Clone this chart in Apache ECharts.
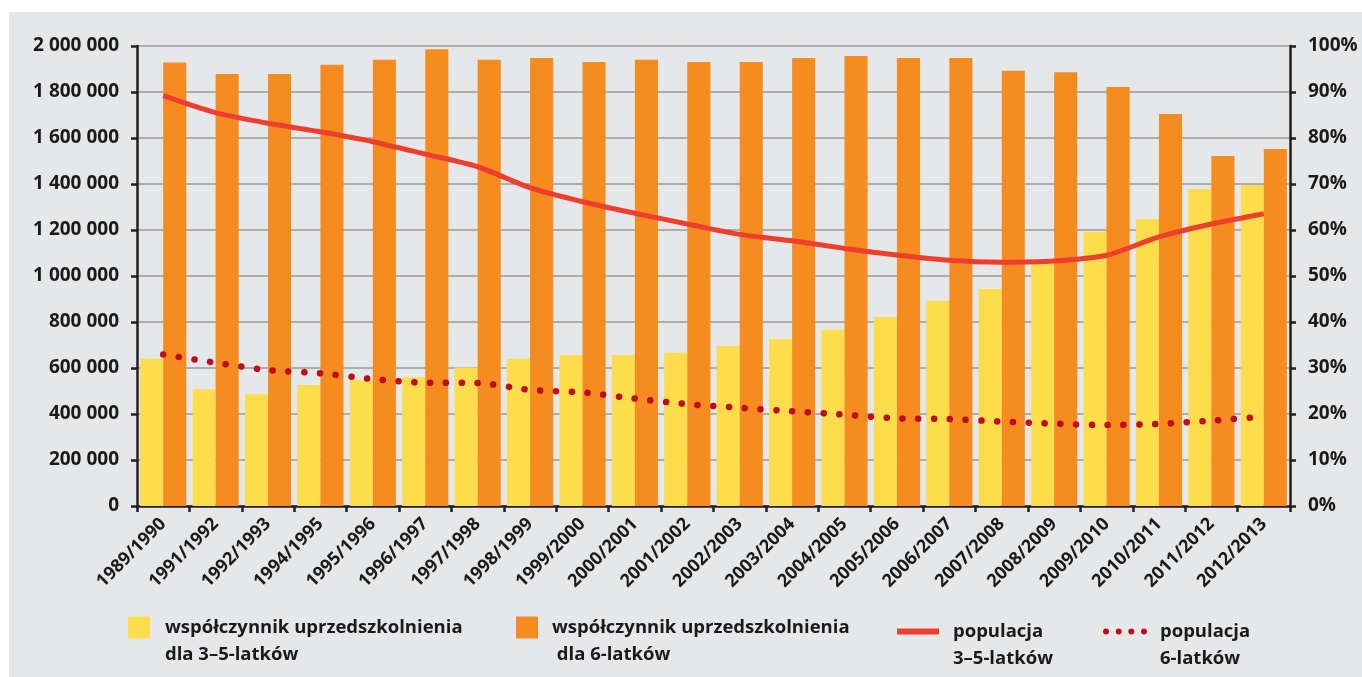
<!DOCTYPE html>
<html>
<head>
<meta charset="utf-8">
<title>Współczynnik uprzedszkolnienia</title>
<script src="https://cdn.jsdelivr.net/npm/echarts@6/dist/echarts.min.js"></script>
<style>
  html, body { margin: 0; padding: 0; background: #fff; }
  #chart { width: 1362px; height: 677px; }
</style>
</head>
<body>
<div id="chart"></div>
<script>
// lata szkolne
const years = ['1989/1990', '1991/1992', '1992/1993', '1994/1995', '1995/1996', '1996/1997',
  '1997/1998', '1998/1999', '1999/2000', '2000/2001', '2001/2002', '2002/2003', '2003/2004',
  '2004/2005', '2005/2006', '2006/2007', '2007/2008', '2008/2009', '2009/2010', '2010/2011',
  '2011/2012', '2012/2013']
// współczynnik uprzedszkolnienia (%)
const rate35 = [32.0, 25.4, 24.3, 26.3, 27.4, 28.0, 30.1, 32.0, 32.8, 32.8, 33.3, 34.8, 36.3,
  38.3, 41.1, 44.6, 47.2, 53.0, 59.6, 62.4, 68.9, 69.8]
const rate6 = [96.4, 93.9, 93.9, 95.9, 97.0, 99.3, 97.0, 97.4, 96.5, 97.0, 96.5, 96.5, 97.4,
  97.8, 97.4, 97.4, 94.6, 94.3, 91.1, 85.2, 76.1, 77.6]
// populacja (osoby)
const pop35 = [1784000, 1710000, 1664000, 1627000, 1584000, 1530000, 1475000, 1384000, 1323000,
  1273000, 1226000, 1181000, 1153000, 1120000, 1091000, 1068000, 1060000, 1065000, 1090000,
  1170000, 1226000, 1271000]
const pop6 = [659000, 623000, 591000, 577000, 552000, 536000, 535000, 505000, 494000, 467000,
  443000, 427000, 412000, 397000, 381000, 378000, 367000, 358000, 352000, 357000, 371000, 388000]

const FONT = '"Open Sans", sans-serif'
const TEXT = '#1a1a1a'
const YELLOW = '#fedd4c'
const ORANGE = '#f68b1f'
const RED = '#ee3e2e'
const DARKRED = '#c00b1c'

// 2000000 -> "2 000 000"
const spaced = (v) => String(v).replace(/\B(?=(\d{3})+(?!\d))/g, ' ')

const axisLine = { show: true, lineStyle: { color: '#231f20', width: 2.5 } }
const axisTick = { show: true, inside: false, length: 6, lineStyle: { color: '#231f20', width: 2.5 } }

// pusta pierwsza linia -> pierwszy wiersz tekstu na wysokości ikony
const legendText = (pl) => ({
  color: TEXT, fontFamily: FONT, fontWeight: 'bold', fontSize: 18.5,
  lineHeight: 27, padding: [0, 0, 0, pl]
})

// ikony legendy dla linii (kreska i kropki)
const solidIcon = 'path://M0,0L42,0L42,6L0,6Z'
const dotsIcon = 'path://M0,3a3,3 0 1,0 6,0a3,3 0 1,0 -6,0Z' +
  'M12.7,3a3,3 0 1,0 6,0a3,3 0 1,0 -6,0Z' +
  'M25.3,3a3,3 0 1,0 6,0a3,3 0 1,0 -6,0Z' +
  'M38,3a3,3 0 1,0 6,0a3,3 0 1,0 -6,0Z'

const option = {
  backgroundColor: '#fff',
  animation: false,
  graphic: [
    { type: 'rect', z: -10, shape: { x: 9, y: 12, width: 1353, height: 665 }, style: { fill: '#e6e7e9' } }
  ],
  grid: { left: 137, right: 72, top: 46, bottom: 171, containLabel: false },
  legend: [
    {
      data: ['yellow'], left: 128, top: 587, padding: 0, icon: 'rect', itemWidth: 22, itemHeight: 22,
      formatter: () => '\nwspółczynnik uprzedszkolnienia\ndla 3–5-latków', textStyle: legendText(10)
    },
    {
      data: ['orange'], left: 516, top: 587, padding: 0, icon: 'rect', itemWidth: 22, itemHeight: 22,
      formatter: () => '\nwspółczynnik uprzedszkolnienia\n dla 6-latków', textStyle: legendText(9)
    },
    {
      data: ['pop35'], left: 897, top: 591, padding: 0, icon: solidIcon, itemWidth: 42, itemHeight: 6,
      formatter: () => '\npopulacja\n3–5-latków', textStyle: legendText(9)
    },
    {
      data: ['pop6'], left: 1103, top: 591, padding: 0, icon: dotsIcon, itemWidth: 44, itemHeight: 6,
      formatter: () => '\npopulacja\n6-latków', textStyle: legendText(8)
    }
  ],
  xAxis: {
    type: 'category',
    data: years,
    boundaryGap: true,
    axisLine: axisLine,
    axisTick: axisTick,
    axisLabel: {
      interval: 0, rotate: 45, margin: 15,
      color: TEXT, fontFamily: FONT, fontWeight: 'bold', fontSize: 18
    }
  },
  yAxis: [
    {
      type: 'value', min: 0, max: 2000000, interval: 200000,
      axisLine: axisLine, axisTick: axisTick,
      axisLabel: {
        margin: 18, formatter: spaced,
        color: TEXT, fontFamily: FONT, fontWeight: 'bold', fontSize: 19
      },
      splitLine: { show: true, lineStyle: { color: '#9a9a9a', width: 1.5 } }
    },
    {
      type: 'value', min: 0, max: 100, interval: 10, position: 'right',
      axisLine: axisLine, axisTick: axisTick,
      axisLabel: {
        margin: 18, formatter: '{value}%',
        color: TEXT, fontFamily: FONT, fontWeight: 'bold', fontSize: 19
      },
      splitLine: { show: false }
    }
  ],
  series: [
    {
      name: 'yellow', type: 'bar', yAxisIndex: 1, data: rate35,
      barGap: '0%', barCategoryGap: '12%',
      itemStyle: { color: YELLOW }
    },
    {
      name: 'orange', type: 'bar', yAxisIndex: 1, data: rate6,
      barGap: '0%', barCategoryGap: '12%',
      itemStyle: { color: ORANGE }
    },
    {
      name: 'pop35', type: 'line', yAxisIndex: 0, data: pop35,
      symbol: 'none', smooth: 0.25, z: 5,
      lineStyle: { color: RED, width: 5 },
      itemStyle: { color: RED }
    },
    {
      name: 'pop6', type: 'line', yAxisIndex: 0, data: pop6,
      symbol: 'none', smooth: 0.25, z: 5,
      lineStyle: { color: DARKRED, width: 6.5, type: [0.1, 15.7], cap: 'round' },
      itemStyle: { color: DARKRED }
    }
  ]
}

const chart = echarts.init(document.getElementById('chart'))
chart.setOption(option)
</script>
</body>
</html>
